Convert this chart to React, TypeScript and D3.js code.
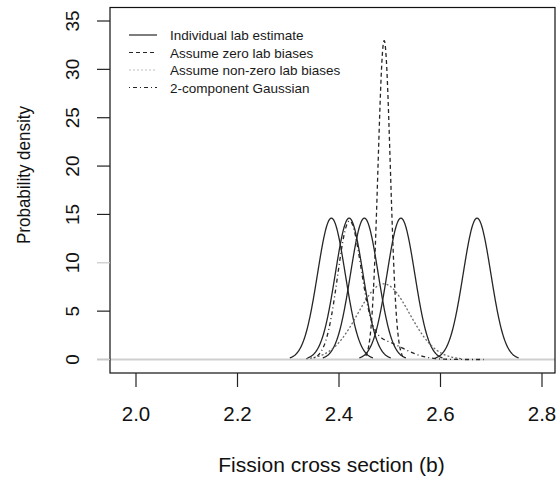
import React from "react";
import * as d3 from "d3";

// ---- data ----
const labMeans = [2.385, 2.42, 2.45, 2.522, 2.672];
const labSd = [0.0273, 0.0273, 0.0273, 0.0273, 0.0273];

const zeroBiasMean = [2.489];
const zeroBiasSd = [0.0121];

const nonZeroMean = [2.488];
const nonZeroSd = [0.051];

const mixWeights = [0.78, 0.22];
const mixMeans = [2.42, 2.48];
const mixSds = [0.023, 0.045];
const mixRange = [2.35, 2.685];

const xTicks = [2.0, 2.2, 2.4, 2.6, 2.8];
const yTicks = [0, 5, 10, 15, 20, 25, 30, 35];

const legendLabels = [
  "Individual lab estimate",
  "Assume zero lab biases",
  "Assume non-zero lab biases",
  "2-component Gaussian",
];

const FONT = "'Liberation Sans', Arial, Helvetica, sans-serif";

const W = 558;
const H = 478;
const box = { left: 110, right: 555, top: 7.5, bottom: 373 };

const x = d3.scaleLinear().domain([2.0, 2.8]).range([136, 542]);
const y = d3.scaleLinear().domain([0, 35]).range([359.5, 21]);

const normPdf = (v: number, m: number, s: number) =>
  Math.exp(-0.5 * ((v - m) / s) ** 2) / (s * Math.sqrt(2 * Math.PI));

const sample = (lo: number, hi: number, f: (v: number) => number, n = 300) =>
  d3.range(n + 1).map((i) => {
    const v = lo + ((hi - lo) * i) / n;
    return [v, f(v)] as [number, number];
  });

const line = d3
  .line<[number, number]>()
  .x((d) => x(d[0]))
  .y((d) => y(d[1]));

const styles = [
  { dash: undefined, color: "#262626", width: 1.3 },
  { dash: "4,3", color: "#262626", width: 1.3 },
  { dash: "2,2", color: "#6a6a6a", width: 1.3 },
  { dash: "1,3,4,3", color: "#262626", width: 1.3 },
];

export default function App() {
  const labPaths = labMeans.map((m, i) =>
    line(sample(m - 3 * labSd[i], m + 3 * labSd[i], (v) => normPdf(v, m, labSd[i])))
  );
  const zm = zeroBiasMean[0];
  const zs = zeroBiasSd[0];
  const zeroPath = line(sample(zm - 3 * zs, zm + 3 * zs, (v) => normPdf(v, zm, zs)));
  const nm = nonZeroMean[0];
  const ns = nonZeroSd[0];
  const nonZeroPath = line(sample(nm - 3 * ns, nm + 3 * ns, (v) => normPdf(v, nm, ns)));
  const mixPath = line(
    sample(mixRange[0], mixRange[1], (v) =>
      mixWeights.reduce((acc, w, i) => acc + w * normPdf(v, mixMeans[i], mixSds[i]), 0)
    )
  );

  const legendY0 = 35;
  const legendDy = 17.5;

  return (
    <svg
      width={W}
      height={H}
      style={{ position: "absolute", left: 0, top: 0, background: "#fff" }}
      fontFamily={FONT}
    >
      <rect x={0} y={0} width={W} height={H} fill="#fff" />
      {/* zero line */}
      <line x1={97} x2={box.right} y1={y(0)} y2={y(0)} stroke="#cfcfcf" strokeWidth={2} />

      {/* curves */}
      <g fill="none">
        {labPaths.map((p, i) => (
          <path key={i} d={p || ""} stroke={styles[0].color} strokeWidth={styles[0].width} />
        ))}
        <path d={nonZeroPath || ""} stroke={styles[2].color} strokeWidth={styles[2].width} strokeDasharray={styles[2].dash} />
        <path d={mixPath || ""} stroke={styles[3].color} strokeWidth={styles[3].width} strokeDasharray={styles[3].dash} />
        <path d={zeroPath || ""} stroke={styles[1].color} strokeWidth={styles[1].width} strokeDasharray={styles[1].dash} />
      </g>

      {/* box */}
      <rect
        x={box.left}
        y={box.top}
        width={box.right - box.left}
        height={box.bottom - box.top}
        fill="none"
        stroke="#111"
        strokeWidth={1.2}
      />

      {/* y axis */}
      {yTicks.map((t) => (
        <g key={t}>
          <line x1={97} x2={box.left} y1={y(t)} y2={y(t)} stroke={t === 0 || t === 10 ? "#c8c8c8" : "#222"} strokeWidth={1.2} />
          <text
            transform={`translate(79,${y(t)}) rotate(-90)`}
            textAnchor="middle"
            fontSize={19}
            fill="#111"
          >
            {t}
          </text>
        </g>
      ))}
      <text
        transform={`translate(30,175) rotate(-90)`}
        textAnchor="middle"
        fontSize={19}
        fill="#111"
        textLength={138}
        lengthAdjust="spacingAndGlyphs"
      >
        Probability density
      </text>

      {/* x axis */}
      {xTicks.map((t) => (
        <g key={t}>
          <line x1={x(t)} x2={x(t)} y1={box.bottom} y2={387} stroke="#222" strokeWidth={1.2} />
          <text x={x(t)} y={421} textAnchor="middle" fontSize={20.5} fill="#111">
            {d3.format(".1f")(t)}
          </text>
        </g>
      ))}
      <text x={331.5} y={472} textAnchor="middle" fontSize={21} fill="#111">
        Fission cross section (b)
      </text>

      {/* legend */}
      {legendLabels.map((lab, i) => (
        <g key={lab}>
          <line
            x1={129}
            x2={157}
            y1={legendY0 + i * legendDy}
            y2={legendY0 + i * legendDy}
            stroke={i === 2 ? "#bdbdbd" : styles[i].color}
            strokeWidth={1.2}
            strokeDasharray={styles[i].dash}
          />
          <text x={170} y={legendY0 + i * legendDy + 5} fontSize={13.5} fill="#1a1a1a">
            {lab}
          </text>
        </g>
      ))}
    </svg>
  );
}
